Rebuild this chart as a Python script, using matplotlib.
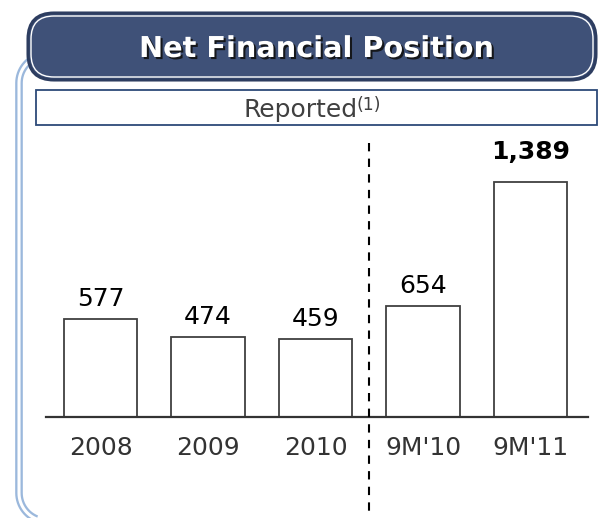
import matplotlib
matplotlib.use("Agg")
import numpy as np
import matplotlib.pyplot as plt
import matplotlib.patheffects as pe
from matplotlib.patches import FancyBboxPatch, Rectangle
from matplotlib.transforms import blended_transform_factory

# data
categories = ["2008", "2009", "2010", "9M'10", "9M'11"]
values = [577, 474, 459, 654, 1389]
labels = ["577", "474", "459", "654", "1,389"]
bold = [False, False, False, False, True]

W, H = 599, 518
fig = plt.figure(figsize=(W / 100, H / 100), dpi=100)
fig.patch.set_facecolor("white")

# overlay in pixel coords for the frame decorations
bg = fig.add_axes([0, 0, 1, 1])
bg.set_xlim(0, W)
bg.set_ylim(H, 0)
bg.axis("off")

# light blue double frame: left side with rounded corners top and bottom
r = 28
fx, ftop, fbot = 19, 55, 521
t1 = np.linspace(np.pi / 2, np.pi, 20)
t2 = np.linspace(np.pi, 1.5 * np.pi, 20)
px = np.concatenate([[200], fx + r + r * np.cos(t1), fx + r + r * np.cos(t2), [200]])
py = np.concatenate([[ftop], ftop + r - r * np.sin(t1), fbot - r - r * np.sin(t2), [fbot]])
bg.plot(px, py, color="#9bb8dc", lw=5.5, zorder=1, solid_capstyle="butt")
bg.plot(px, py, color="white", lw=2.2, zorder=1.1, solid_capstyle="butt")

# header
hdr = FancyBboxPatch((28, 13), 568, 67, boxstyle="round,pad=0,rounding_size=26",
                     fc="#3f5178", ec="#2d3d60", lw=2.2, zorder=2)
bg.add_patch(hdr)
hdr_in = FancyBboxPatch((31, 16), 562, 61, boxstyle="round,pad=0,rounding_size=23",
                        fc="none", ec="white", lw=1.0, zorder=2.1)
bg.add_patch(hdr_in)
bg.text(316, 57, "Net Financial Position", color="white", fontsize=20.7, fontweight="bold",
        ha="center", va="baseline", zorder=3,
        path_effects=[pe.withSimplePatchShadow(offset=(1.5, -1.5), shadow_rgbFace="#111111", alpha=0.9)])

# reported box
bg.add_patch(Rectangle((36, 90), 561, 35, fc="white", ec="#2d4a78", lw=1.3, zorder=2))
bg.text(243, 117, "Reported", color="#404040", fontsize=18, ha="left", va="baseline", zorder=3)
bg.text(356, 110, "(1)", color="#404040", fontsize=12.5, ha="left", va="baseline", zorder=3)

# chart axes
base_px, top_px = 417, 140
left_px, right_px = 46, 588
ax = fig.add_axes([left_px / W, 1 - base_px / H, (right_px - left_px) / W, (base_px - top_px) / H])
ax.patch.set_alpha(0)
ax.set_xlim(-0.507, 4.535)
ax.set_ylim(0, (base_px - top_px) / 0.169)

x = list(range(len(categories)))
ax.bar(x, values, width=0.68, color="white", edgecolor="#404040", linewidth=1.3, zorder=2)

for i, (v, lab, b) in enumerate(zip(values, labels, bold)):
    off = 17 if b else 9.5
    ax.annotate(lab, (i, v), xytext=(0, off), textcoords="offset points",
                ha="center", va="baseline", fontsize=18,
                fontweight="bold" if b else "normal", color="black")

for s in ["left", "right", "top"]:
    ax.spines[s].set_visible(False)
ax.spines["bottom"].set_color("#333333")
ax.spines["bottom"].set_linewidth(1.6)
ax.set_yticks([])
ax.set_xticks(x)
ax.set_xticklabels(categories, fontsize=18, color="#333333")
ax.tick_params(axis="x", length=0, pad=14)

# dashed divider between annual and nine-month figures
tr = blended_transform_factory(ax.transData, bg.transData)
ax.plot([2.5, 2.5], [143, 512], transform=tr, color="black", lw=1.5,
        ls=(0, (4, 3.5)), clip_on=False, zorder=3)

fig.savefig("out.png", dpi=100)
